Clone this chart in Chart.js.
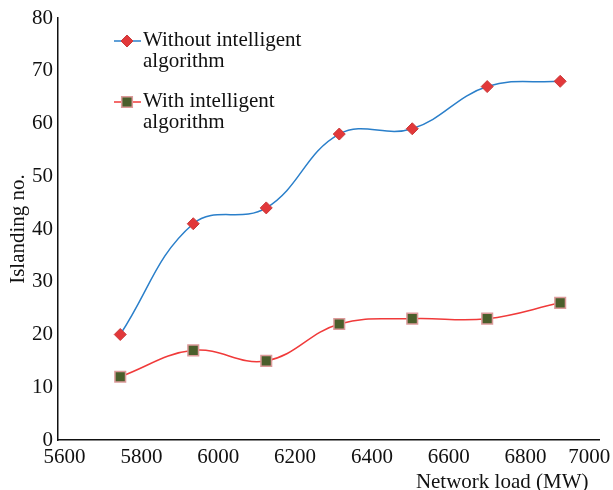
<!DOCTYPE html>
<html>
<head>
<meta charset="utf-8">
<script src="https://cdn.jsdelivr.net/npm/chart.js@4.4.1/dist/chart.umd.min.js"></script>
<style>
  html, body { margin: 0; padding: 0; background: #fff; }
</style>
</head>
<body>
<canvas id="islandChart" width="613" height="490"></canvas>
<script>
'use strict';

// Netzlast (MW) und Anzahl Inselbildungen
const loads = [5745, 5935, 6125, 6315, 6505, 6700, 6890];
const withoutAlgo = [20, 41, 44, 58, 59, 67, 68];
const withAlgo = [12, 17, 15, 22, 23, 23, 26];
const xTicks = [5600, 5800, 6000, 6200, 6400, 6600, 6800, 7000];
const yTicks = [0, 10, 20, 30, 40, 50, 60, 70, 80];
const seriesNames = [
  ['Without intelligent', 'algorithm'],
  ['With intelligent', 'algorithm'],
];

const font = 'Liberation Serif';

// Legende mit zweizeiligen Beschriftungen
const twoLineLegend = {
  id: 'twoLineLegend',
  afterDraw(chart) {
    const ctx = chart.ctx;
    const rows = [
      { y: 41, ds: chart.data.datasets[0] },
      { y: 102, ds: chart.data.datasets[1] },
    ];
    ctx.save();
    rows.forEach(row => {
      ctx.strokeStyle = row.ds.borderColor;
      ctx.lineWidth = 1.5;
      ctx.beginPath();
      ctx.moveTo(114, row.y);
      ctx.lineTo(141, row.y);
      ctx.stroke();
      ctx.fillStyle = row.ds.pointBackgroundColor;
      ctx.strokeStyle = row.ds.pointBorderColor;
      ctx.lineWidth = row.ds.pointBorderWidth;
      Chart.helpers.drawPoint(ctx, {
        pointStyle: row.ds.pointStyle,
        radius: row.ds.pointRadius,
        borderWidth: row.ds.pointBorderWidth,
      }, 127, row.y);
      ctx.fillStyle = '#111';
      ctx.font = `21px "${font}"`;
      ctx.textBaseline = 'middle';
      ctx.textAlign = 'left';
      row.ds.label.forEach((line, i) => {
        ctx.fillText(line, 143, row.y - 1 + i * 21);
      });
    });
    ctx.restore();
  },
};

const ctx = document.getElementById('islandChart').getContext('2d');
new Chart(ctx, {
  type: 'line',
  data: {
    datasets: [
      {
        label: seriesNames[0],
        data: loads.map((x, i) => ({ x, y: withoutAlgo[i] })),
        borderColor: '#2a7fca',
        borderWidth: 1.5,
        tension: 0.4,
        pointStyle: 'rectRot',
        pointRadius: 6,
        pointBorderWidth: 1,
        pointBackgroundColor: '#e2383a',
        pointBorderColor: '#c93a3a',
      },
      {
        label: seriesNames[1],
        data: loads.map((x, i) => ({ x, y: withAlgo[i] })),
        borderColor: '#f03a3a',
        borderWidth: 1.5,
        tension: 0.4,
        pointStyle: 'rect',
        pointRadius: 7.5,
        pointBorderWidth: 1.5,
        pointBackgroundColor: '#4a5e2b',
        pointBorderColor: '#dc9a9a',
      },
    ],
  },
  options: {
    responsive: false,
    animation: false,
    layout: { padding: { top: 18, right: 14, left: 0, bottom: 0 } },
    plugins: {
      legend: { display: false },
      tooltip: { enabled: false },
    },
    scales: {
      x: {
        type: 'linear',
        min: 5583,
        max: 6991,
        afterBuildTicks: axis => {
          axis.ticks = xTicks.map(value => ({ value }));
        },
        grid: { display: false, drawTicks: false },
        border: { display: true, color: '#111', width: 1.5 },
        ticks: {
          color: '#111',
          font: { family: font, size: 21 },
          padding: 5,
          maxRotation: 0,
          autoSkip: false,
          // letzte Beschriftung sitzt im Original am rechten Rand
          callback: value => (value === 7000 ? '7000     ' : String(value)),
        },
        title: {
          display: true,
          text: 'Network load (MW)  ',
          align: 'end',
          color: '#111',
          font: { family: font, size: 21, lineHeight: 1 },
          padding: { top: 0, bottom: -3 },
        },
        afterFit: axis => {
          axis.height = 50;
          axis.paddingRight = 0;
          axis.paddingLeft = 0;
        },
      },
      y: {
        min: 0,
        max: 80,
        afterBuildTicks: axis => {
          axis.ticks = yTicks.map(value => ({ value }));
        },
        grid: { display: false, drawTicks: false },
        border: { display: true, color: '#111', width: 1.5 },
        ticks: {
          color: '#111',
          font: { family: font, size: 21 },
          padding: 5,
          callback: value => String(value),
        },
        title: {
          display: true,
          text: 'Islanding no.',
          color: '#111',
          font: { family: font, size: 21 },
          padding: { top: 6, bottom: 0 },
        },
        afterFit: axis => {
          axis.width = 58;
        },
      },
    },
  },
  plugins: [twoLineLegend],
});
</script>
</body>
</html>
